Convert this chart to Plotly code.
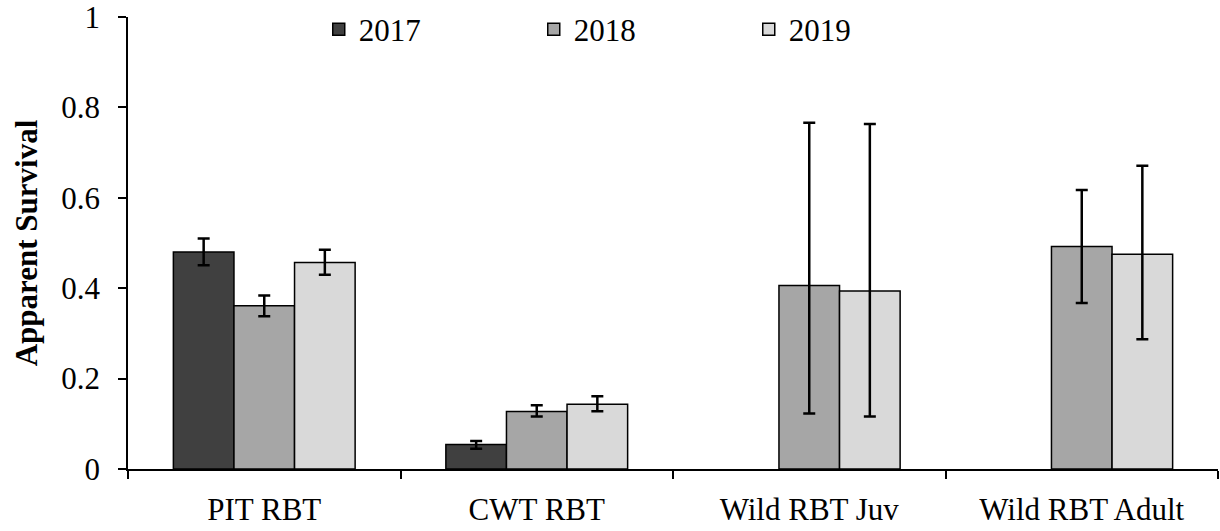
import plotly.graph_objects as go

categories = ["PIT RBT", "CWT RBT", "Wild RBT Juv", "Wild RBT Adult"]
years = ["2017", "2018", "2019"]

surv_2017 = [0.480, 0.054, None, None]
plus_2017 = [0.030, 0.008, None, None]
minus_2017 = [0.029, 0.009, None, None]

surv_2018 = [0.361, 0.127, 0.406, 0.492]
plus_2018 = [0.023, 0.014, 0.360, 0.125]
minus_2018 = [0.023, 0.011, 0.283, 0.125]

surv_2019 = [0.457, 0.143, 0.394, 0.475]
plus_2019 = [0.028, 0.018, 0.369, 0.196]
minus_2019 = [0.027, 0.015, 0.278, 0.188]

colors = ["#404040", "#a6a6a6", "#d9d9d9"]

series = [
    (years[0], surv_2017, plus_2017, minus_2017, colors[0]),
    (years[1], surv_2018, plus_2018, minus_2018, colors[1]),
    (years[2], surv_2019, plus_2019, minus_2019, colors[2]),
]

FONT = "'Liberation Serif', 'Times New Roman', serif"

fig = go.Figure()
for name, vals, plus, minus, col in series:
    fig.add_trace(go.Bar(
        name=name, x=categories, y=vals,
        marker=dict(color=col, line=dict(color="black", width=1.5)),
        error_y=dict(type="data", array=plus, arrayminus=minus, symmetric=False,
                     color="black", thickness=2.5, width=6),
    ))

fig.update_layout(
    width=1220, height=531,
    margin=dict(l=128, r=2, t=17, b=62, autoexpand=False),
    plot_bgcolor="white", paper_bgcolor="white",
    barmode="group", bargap=0.333, bargroupgap=0,
    font=dict(family=FONT, size=31, color="black"),
    legend=dict(orientation="h", x=0.175, y=0.972, xanchor="left", yanchor="middle",
                entrywidth=170, entrywidthmode="pixels",
                font=dict(family=FONT, size=31, color="black"),
                bgcolor="rgba(0,0,0,0)", traceorder="normal"),
    showlegend=True,
)
fig.update_xaxes(
    showline=True, linecolor="black", linewidth=1.5,
    ticks="outside", ticklen=8, tickcolor="black", tickwidth=1.5,
    tickson="boundaries", ticklabelstandoff=12, ticklabeloverflow="allow",
    tickfont=dict(family=FONT, size=31), showgrid=False, zeroline=False,
)
fig.update_yaxes(
    range=[0, 1], dtick=0.2, showline=True, linecolor="black", linewidth=1.5,
    ticks="outside", ticklen=8, tickcolor="black", tickwidth=1.5,
    ticklabelstandoff=12, ticklabeloverflow="allow", tickfont=dict(family=FONT, size=31),
    showgrid=False, zeroline=False,
    title=dict(text="<b>Apparent Survival</b>", font=dict(family=FONT, size=31), standoff=14),
)

fig.write_html("out.html")
